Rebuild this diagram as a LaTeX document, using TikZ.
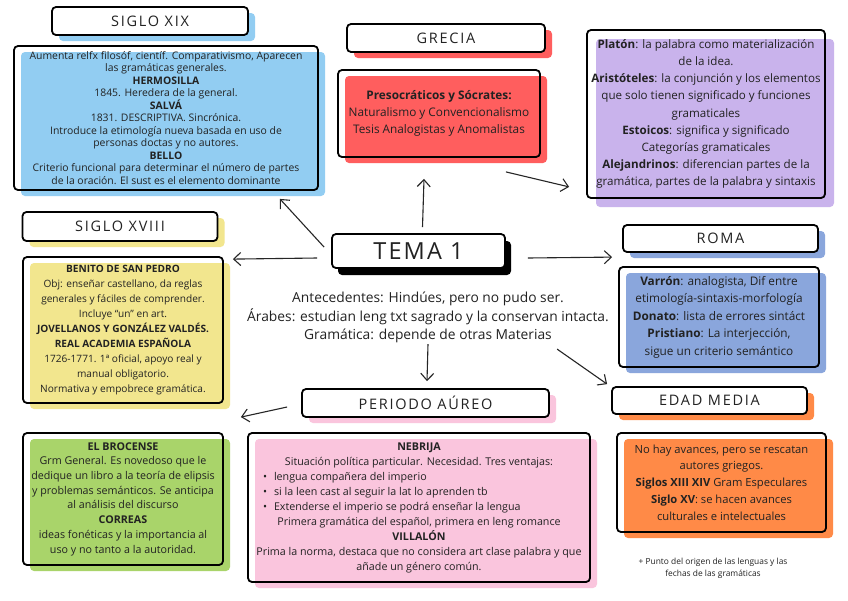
\documentclass[tikz,border=0pt]{standalone}
\usepackage{fontspec}
\setmainfont{Open Sans}
\newfontfamily\titlefont[LetterSpace=12]{Open Sans}
\newfontfamily\temafont[LetterSpace=9]{Open Sans}
\usetikzlibrary{arrows.meta,shadows}
\definecolor{cxix}{HTML}{92CDF2}
\definecolor{cgre}{HTML}{FF5E5E}
\definecolor{cpur}{HTML}{C9B3EC}
\definecolor{cyel}{HTML}{F2E68E}
\definecolor{crom}{HTML}{8AA6DC}
\definecolor{cora}{HTML}{FF8A47}
\definecolor{cpin}{HTML}{FAC5DD}
\definecolor{cgrn}{HTML}{A9D46A}
\definecolor{ink}{HTML}{222222}
\newcommand\bsz[2]{\fontsize{#1}{#2}\selectfont}
\tikzset{
  box/.style={draw=black, line width=1.8pt, rounded corners=4pt, inner sep=0pt, align=center, text=ink},
  titlebox/.style={box, fill=white, font=\titlefont\fontsize{14.5}{16}\selectfont},
  sh/.style={drop shadow={shadow xshift=7pt, shadow yshift=-6pt, fill=#1, opacity=1}},
  arr/.style={line width=1.1pt, black!85, -{Straight Barb[length=7pt,width=13pt,line width=1.1pt]}},
}
\begin{document}
\begin{tikzpicture}[x=1pt,y=-1pt]
\useasboundingbox[fill=white] (0,0) rectangle (848,600);

% SIGLO XIX
\node[titlebox, sh=cxix, minimum width=196pt, minimum height=28pt] (xixT) at (150,21) {SIGLO XIX};
\node[box, sh=cxix, minimum width=304pt, minimum height=144pt, font=\bsz{10.4}{12.5}] (xixB) at (166,118)
{Aumenta relfx filosóf, científ. Comparativismo, Aparecen\\ las gramáticas generales.\\ \textbf{HERMOSILLA}\\ 1845. Heredera de la general.\\ \textbf{SALVÁ}\\ 1831. DESCRIPTIVA. Sincrónica.\\ Introduce la etimología nueva basada en uso de\\ personas doctas y no autores.\\ \textbf{BELLO}\\ Criterio funcional para determinar el número de partes\\ de la oración. El sust es el elemento dominante};

% GRECIA
\node[titlebox, sh=cgre, minimum width=198pt, minimum height=28pt] (grT) at (446,38) {GRECIA};
\node[box, sh=cgre, minimum width=202pt, minimum height=87pt, font=\bsz{11.8}{17}] (grB) at (439,113.5)
{\textbf{Presocráticos y Sócrates:}\\ Naturalismo y Convencionalismo\\ Tesis Analogistas y Anomalistas};

% purple
\node[box, drop shadow={shadow xshift=9pt, shadow yshift=-9pt, fill=cpur, opacity=1}, minimum width=238pt, minimum height=168pt, font=\bsz{11.6}{17.2}] (purB) at (706,114)
{\textbf{Platón}: la palabra como materialización\\ de la idea.\\ \textbf{Aristóteles}: la conjunción y los elementos\\ que solo tienen significado y funciones\\ gramaticales\\ \textbf{Estoicos}: significa y significado\\ Categorías gramaticales\\ \textbf{Alejandrinos}: diferencian partes de la\\ gramática, partes de la palabra y sintaxis};

% SIGLO XVIII
\node[titlebox, sh=cyel, minimum width=195pt, minimum height=29pt] (xviiiT) at (120,226.5) {SIGLO XVIII};
\node[box, sh=cyel, minimum width=200pt, minimum height=146pt, font=\bsz{10.1}{15.1}] (xviiiB) at (123,330)
{\textbf{BENITO DE SAN PEDRO}\\ Obj: enseñar castellano, da reglas\\ generales y fáciles de comprender.\\ Incluye “un” en art.\\ \textbf{JOVELLANOS Y GONZÁLEZ VALDÉS.}\\ \textbf{REAL ACADEMIA ESPAÑOLA}\\ 1726-1771. 1ª oficial, apoyo real y\\ manual obligatorio.\\ Normativa y empobrece gramática.};

% TEMA 1
\node[box, fill=white, drop shadow={shadow xshift=6pt, shadow yshift=-7pt, fill=black, opacity=1}, minimum width=173pt, minimum height=34pt, font=\temafont\fontsize{23.5}{25}\selectfont] (temaT) at (418.5,251) {TEMA 1};
\node[align=center, text=ink, font=\fontsize{13.8}{18.8}\selectfont, inner sep=0pt] (ctx) at (428,317.5)
{Antecedentes: Hindúes, pero no pudo ser.\\ Árabes: estudian leng txt sagrado y la conservan intacta.\\ Gramática: depende de otras Materias};

% ROMA
\node[titlebox, sh=crom, minimum width=195pt, minimum height=27pt] (romaT) at (720.5,238.5) {ROMA};
\node[box, sh=crom, minimum width=200pt, minimum height=100pt, font=\bsz{11.8}{17.5}] (romaB) at (719,317)
{\textbf{Varrón}: analogista, Dif entre\\ etimología-sintaxis-morfología\\ \textbf{Donato}: lista de errores sintáct\\ \textbf{Pristiano}: La interjección,\\ sigue un criterio semántico};

% EDAD MEDIA
\node[titlebox, sh=cora, minimum width=195pt, minimum height=27pt] (edadT) at (709.5,400.5) {EDAD MEDIA};
\node[box, sh=cora, minimum width=209pt, minimum height=99pt, font=\bsz{11.2}{16.8}] (edadB) at (721.5,482.5)
{No hay avances, pero se rescatan\\ autores griegos.\\ \textbf{Siglos XIII XIV} Gram Especulares\\ \textbf{Siglo XV}: se hacen avances\\ culturales e intelectuales};

% PERIODO AUREO
\node[titlebox, sh=cpin, minimum width=247pt, minimum height=28pt] (aureoT) at (425.5,403) {PERIODO AÚREO};
\node[box, sh=cpin, minimum width=342pt, minimum height=149pt, font=\bsz{10.7}{15}] (aureoB) at (419,507.5)
{\textbf{NEBRIJA}\\ Situación política particular. Necesidad. Tres ventajas:\\
\makebox[312pt][l]{\textbullet\hspace{7pt}lengua compañera del imperio}\\
\makebox[312pt][l]{\textbullet\hspace{7pt}si la leen cast al seguir la lat lo aprenden tb}\\
\makebox[312pt][l]{\textbullet\hspace{7pt}Extenderse el imperio se podrá enseñar la lengua}\\
Primera gramática del español, primera en leng romance\\ \textbf{VILLALÓN}\\ Prima la norma, destaca que no considera art clase palabra y que\\ añade un género común.};

% green
\node[box, sh=cgrn, minimum width=200pt, minimum height=132pt, font=\bsz{10.7}{14.7}] (grnB) at (123,499)
{\textbf{EL BROCENSE}\\ Grm General. Es novedoso que le\\ dedique un libro a la teoría de elipsis\\ y problemas semánticos. Se anticipa\\ al análisis del discurso\\ \textbf{CORREAS}\\ ideas fonéticas y la importancia al\\ uso y no tanto a la autoridad.};

% footnote
\node[align=center, text=ink, font=\fontsize{8.4}{12.5}\selectfont, inner sep=0pt] (foot) at (713,568.5)
{+ Punto del origen de las lenguas y las\\ fechas de las gramáticas};

% arrows
\draw[arr] ([shift={(-7,14)}]temaT.north west) -- ([shift={(-39,8)}]xixB.south east);
\draw[arr] ([shift={(4,-6)}]temaT.north) -- ([shift={(-15,21)}]grB.south);
\draw[arr] ([shift={(-35,14)}]grB.south east) -- ([shift={(-17,-12)}]purB.south west);
\draw[arr] ([shift={(-14,7)}]temaT.west) -- ([shift={(9,3)}]xviiiB.north east);
\draw[arr] ([shift={(22,7)}]temaT.east) -- ([shift={(-6,-9)}]romaB.north west);
\draw[arr] ([shift={(2.5,-44)}]aureoT.north) -- ([shift={(1.5,-7)}]aureoT.north);
\draw[arr] ([shift={(-54,-37)}]edadT.north west) -- ([shift={(-4,-2)}]edadT.north west);
\draw[arr] ([shift={(-14,4)}]aureoT.west) -- ([shift={(17,-15)}]grnB.north east);
\end{tikzpicture}
\end{document}
